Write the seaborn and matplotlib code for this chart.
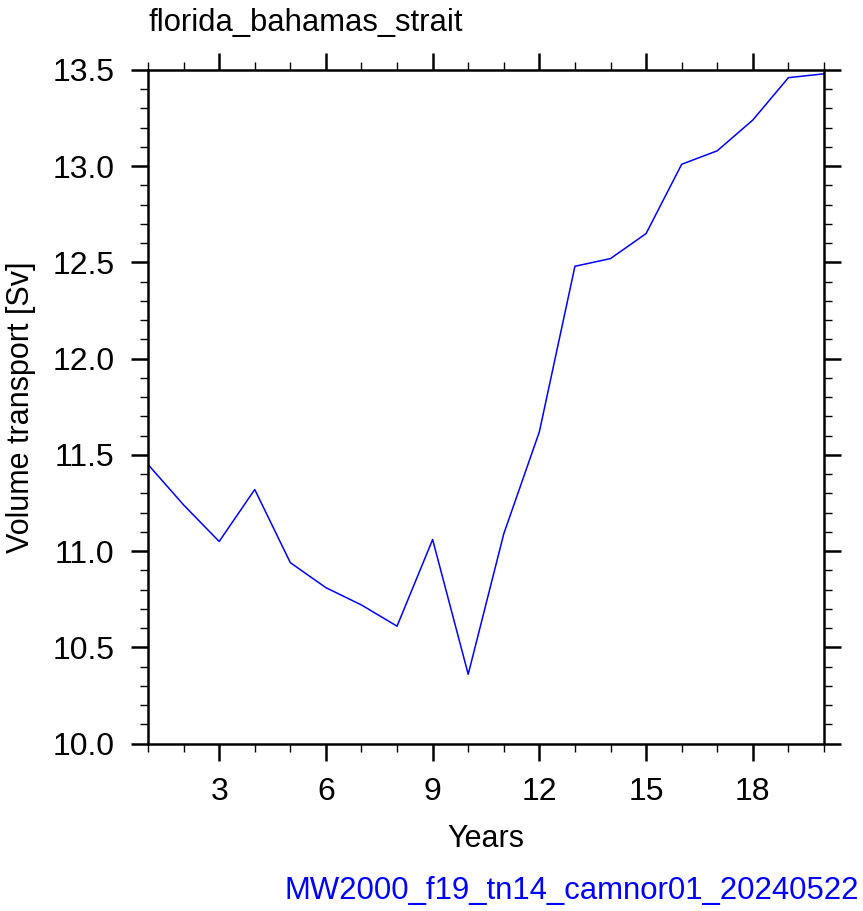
import seaborn as sns
import matplotlib.pyplot as plt
import pandas as pd
from matplotlib.ticker import MultipleLocator

years = list(range(1, 21))
transport = [11.45, 11.24, 11.05, 11.32, 10.94, 10.81, 10.72, 10.61, 11.06, 10.36,
             11.09, 11.62, 12.48, 12.52, 12.65, 13.01, 13.08, 13.24, 13.46, 13.48]
x_ticks = [3, 6, 9, 12, 15, 18]
y_ticks = [10.0, 10.5, 11.0, 11.5, 12.0, 12.5, 13.0, 13.5]

sns.set_style("ticks")
plt.rcParams['font.family'] = ['Liberation Sans', 'DejaVu Sans']
plt.rcParams['text.color'] = 'black'
plt.rcParams['axes.labelcolor'] = 'black'

df = pd.DataFrame({"Years": years, "transport": transport})

fig = plt.figure(figsize=(8.63, 9.11), dpi=100)
ax = fig.add_axes([0.1715, 0.1838, 0.7833, 0.7394])

sns.lineplot(data=df, x="Years", y="transport", color="#0000ff", linewidth=1.1, ax=ax)

ax.set_xlim(1, 20)
ax.set_ylim(10, 13.5)
ax.set_xticks(x_ticks)
ax.set_yticks(y_ticks)
ax.set_yticklabels([f"{v:.1f}" for v in y_ticks])
ax.xaxis.set_minor_locator(MultipleLocator(1))
ax.yaxis.set_minor_locator(MultipleLocator(0.1))

for s in ax.spines.values():
    s.set_linewidth(1.8)
    s.set_color("black")
ax.tick_params(which="major", direction="out", length=12, width=1.8, labelsize=23,
               top=True, right=True, pad=12, colors="black")
ax.tick_params(which="minor", direction="out", length=6, width=1.0,
               top=True, right=True, colors="black")

ax.set_xlabel("Years", fontsize=22, labelpad=12)
ax.set_ylabel("Volume transport [Sv]", fontsize=22, labelpad=12)
ax.set_title("florida_bahamas_strait", loc="left", fontsize=22.3, pad=28)

fig.text(0.995, 0.006, "MW2000_f19_tn14_camnor01_20240522", color="#0000ff",
         fontsize=22.4, ha="right", va="bottom")

fig.savefig("out.png", dpi=100)
